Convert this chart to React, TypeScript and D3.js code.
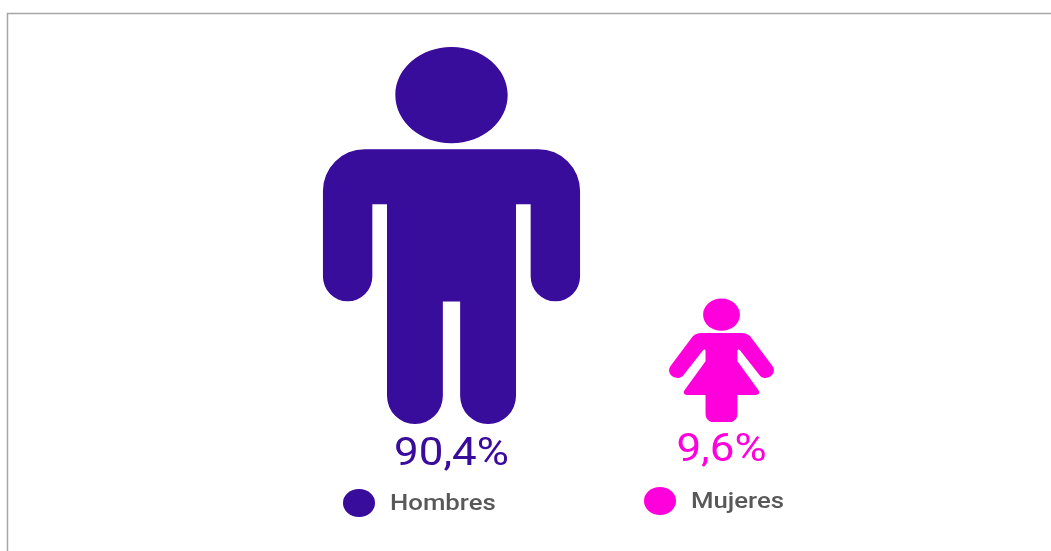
import React from "react";
import * as d3 from "d3";

const categories = ["Hombres", "Mujeres"];
const shares = [90.4, 9.6];
const shareLabels = ["90,4%", "9,6%"];
const colors = ["#38079c", "#ff00dc"];

const W = 1051, H = 551;
const size = d3.scaleSqrt().domain([0, 90.4]).range([0, 377]);
const baseline = d3.scaleOrdinal<string, number>().domain(categories).range([424, 422]);
const centers = d3.scaleOrdinal<string, number>().domain(categories).range([451.5, 721.5]);
const labelBase = d3.scaleOrdinal<string, number>().domain(categories).range([464.5, 460.5]);
const legendX = d3.scaleOrdinal<string, number>().domain(categories).range([359, 660]);
const legendY = d3.scaleOrdinal<string, number>().domain(categories).range([503, 501]);
const legendBase = d3.scaleOrdinal<string, number>().domain(categories).range([510, 508]);

// Outline builders: u(x) and v(y) map glyph units (0..100 high, x centred) into pixels
function manPath(cx: number, bottom: number, h: number) {
  const k = h / 100;
  const u = (x: number) => cx + x * k;
  const v = (y: number) => bottom - h + y * k;
  const p = d3.path();
  // head
  p.moveTo(u(-14.9), v(12.7));
  p.bezierCurveTo(u(-14.9), v(5.7), u(-8.2), v(0), u(0), v(0));
  p.bezierCurveTo(u(8.2), v(0), u(14.9), v(5.7), u(14.9), v(12.7));
  p.bezierCurveTo(u(14.9), v(19.8), u(8.2), v(25.5), u(0), v(25.5));
  p.bezierCurveTo(u(-8.2), v(25.5), u(-14.9), v(19.8), u(-14.9), v(12.7));
  p.closePath();
  // body
  p.moveTo(u(-23), v(27.1));
  p.lineTo(u(23), v(27.1));
  p.arcTo(u(34.1), v(27.1), u(34.1), v(38.2), 11.1 * k);
  p.lineTo(u(34.1), v(60.9));
  p.arc(u(27.55), v(60.9), 6.55 * k, 0, Math.PI);
  p.lineTo(u(21), v(41.7));
  p.lineTo(u(17.1), v(41.7));
  p.lineTo(u(17.1), v(92.6));
  p.arc(u(9.7), v(92.6), 7.4 * k, 0, Math.PI);
  p.lineTo(u(2.3), v(67.5));
  p.lineTo(u(-2.3), v(67.5));
  p.lineTo(u(-2.3), v(92.6));
  p.arc(u(-9.7), v(92.6), 7.4 * k, 0, Math.PI);
  p.lineTo(u(-17.1), v(41.7));
  p.lineTo(u(-21), v(41.7));
  p.lineTo(u(-21), v(60.9));
  p.arc(u(-27.55), v(60.9), 6.55 * k, 0, Math.PI);
  p.lineTo(u(-34.1), v(38.2));
  p.arcTo(u(-34.1), v(27.1), u(-23), v(27.1), 11.1 * k);
  p.closePath();
  return p.toString();
}

function womanPath(cx: number, bottom: number, h: number) {
  const k = h / 100;
  const u = (x: number) => cx + x * k;
  const v = (y: number) => bottom - h + y * k;
  const p = d3.path();
  // head
  p.moveTo(u(-15), v(12.5));
  p.bezierCurveTo(u(-15), v(5.6), u(-8.3), v(-0.5), u(0), v(-0.5));
  p.bezierCurveTo(u(8.3), v(-0.5), u(15), v(5.6), u(15), v(12.5));
  p.bezierCurveTo(u(15), v(20), u(8.3), v(25.8), u(0), v(25.8));
  p.bezierCurveTo(u(-8.3), v(25.8), u(-15), v(20), u(-15), v(12.5));
  p.closePath();
  // body
  p.moveTo(u(-15), v(27.5));
  p.lineTo(u(15), v(27.5));
  p.bezierCurveTo(u(18.5), v(27.5), u(21.5), v(28), u(23.5), v(30.5));
  p.lineTo(u(41.5), v(54.5));
  p.bezierCurveTo(u(46), v(61.5), u(36.5), v(67), u(31.5), v(62.5));
  p.lineTo(u(15), v(41.5));
  p.bezierCurveTo(u(13.8), v(40.5), u(13), v(41), u(13), v(42));
  p.lineTo(u(13), v(50.6));
  p.lineTo(u(30), v(74));
  p.bezierCurveTo(u(31.5), v(76), u(30.5), v(78), u(28), v(78));
  p.lineTo(u(13), v(78));
  p.lineTo(u(13), v(93));
  p.bezierCurveTo(u(13), v(97.5), u(10), v(100), u(7), v(100));
  p.lineTo(u(-7), v(100));
  p.bezierCurveTo(u(-10), v(100), u(-13), v(97.5), u(-13), v(93));
  p.lineTo(u(-13), v(78));
  p.lineTo(u(-28), v(78));
  p.bezierCurveTo(u(-30.5), v(78), u(-31.5), v(76), u(-30), v(74));
  p.lineTo(u(-13), v(50.6));
  p.lineTo(u(-13), v(42));
  p.bezierCurveTo(u(-13), v(41), u(-13.8), v(40.5), u(-15), v(41.5));
  p.lineTo(u(-31.5), v(62.5));
  p.bezierCurveTo(u(-36.5), v(67), u(-46), v(61.5), u(-41.5), v(54.5));
  p.lineTo(u(-23.5), v(30.5));
  p.bezierCurveTo(u(-21.5), v(28), u(-18.5), v(27.5), u(-15), v(27.5));
  p.closePath();
  return p.toString();
}

const glyphs = [manPath, womanPath];
const valueStretch = 1.155;
const legendStretch = 1.145;

export default function App() {
  return (
    <svg
      width={W}
      height={H}
      viewBox={`0 0 ${W} ${H}`}
      style={{ position: "absolute", left: 0, top: 0, background: "#fff", fontFamily: "Roboto, sans-serif" }}
    >
      <defs>
        <filter id="soft" x="0" y="0" width={W} height={H} filterUnits="userSpaceOnUse" primitiveUnits="userSpaceOnUse">
          <feGaussianBlur stdDeviation={0.5} />
        </filter>
      </defs>
      <path d={`M7.5 ${H} V13.5 H${W}`} fill="none" stroke="#a6a6a6" strokeWidth={1.5} />
      <g filter="url(#soft)">
        {categories.map((c, i) => (
          <g key={c}>
            <path d={glyphs[i](centers(c), baseline(c), size(shares[i]))} fill={colors[i]} />
            <text
              transform={`translate(${centers(c)},${labelBase(c)}) scale(${valueStretch},1)`}
              textAnchor="middle"
              fontSize={38}
              fill={colors[i]}
            >
              {shareLabels[i]}
            </text>
            <ellipse cx={legendX(c)} cy={legendY(c)} rx={16} ry={14} fill={colors[i]} />
            <text
              transform={`translate(${legendX(c) + 31},${legendBase(c)}) scale(${legendStretch},1)`}
              fontSize={22.5}
              fontWeight={500}
              fill="#595959"
            >
              {c}
            </text>
          </g>
        ))}
      </g>
    </svg>
  );
}
